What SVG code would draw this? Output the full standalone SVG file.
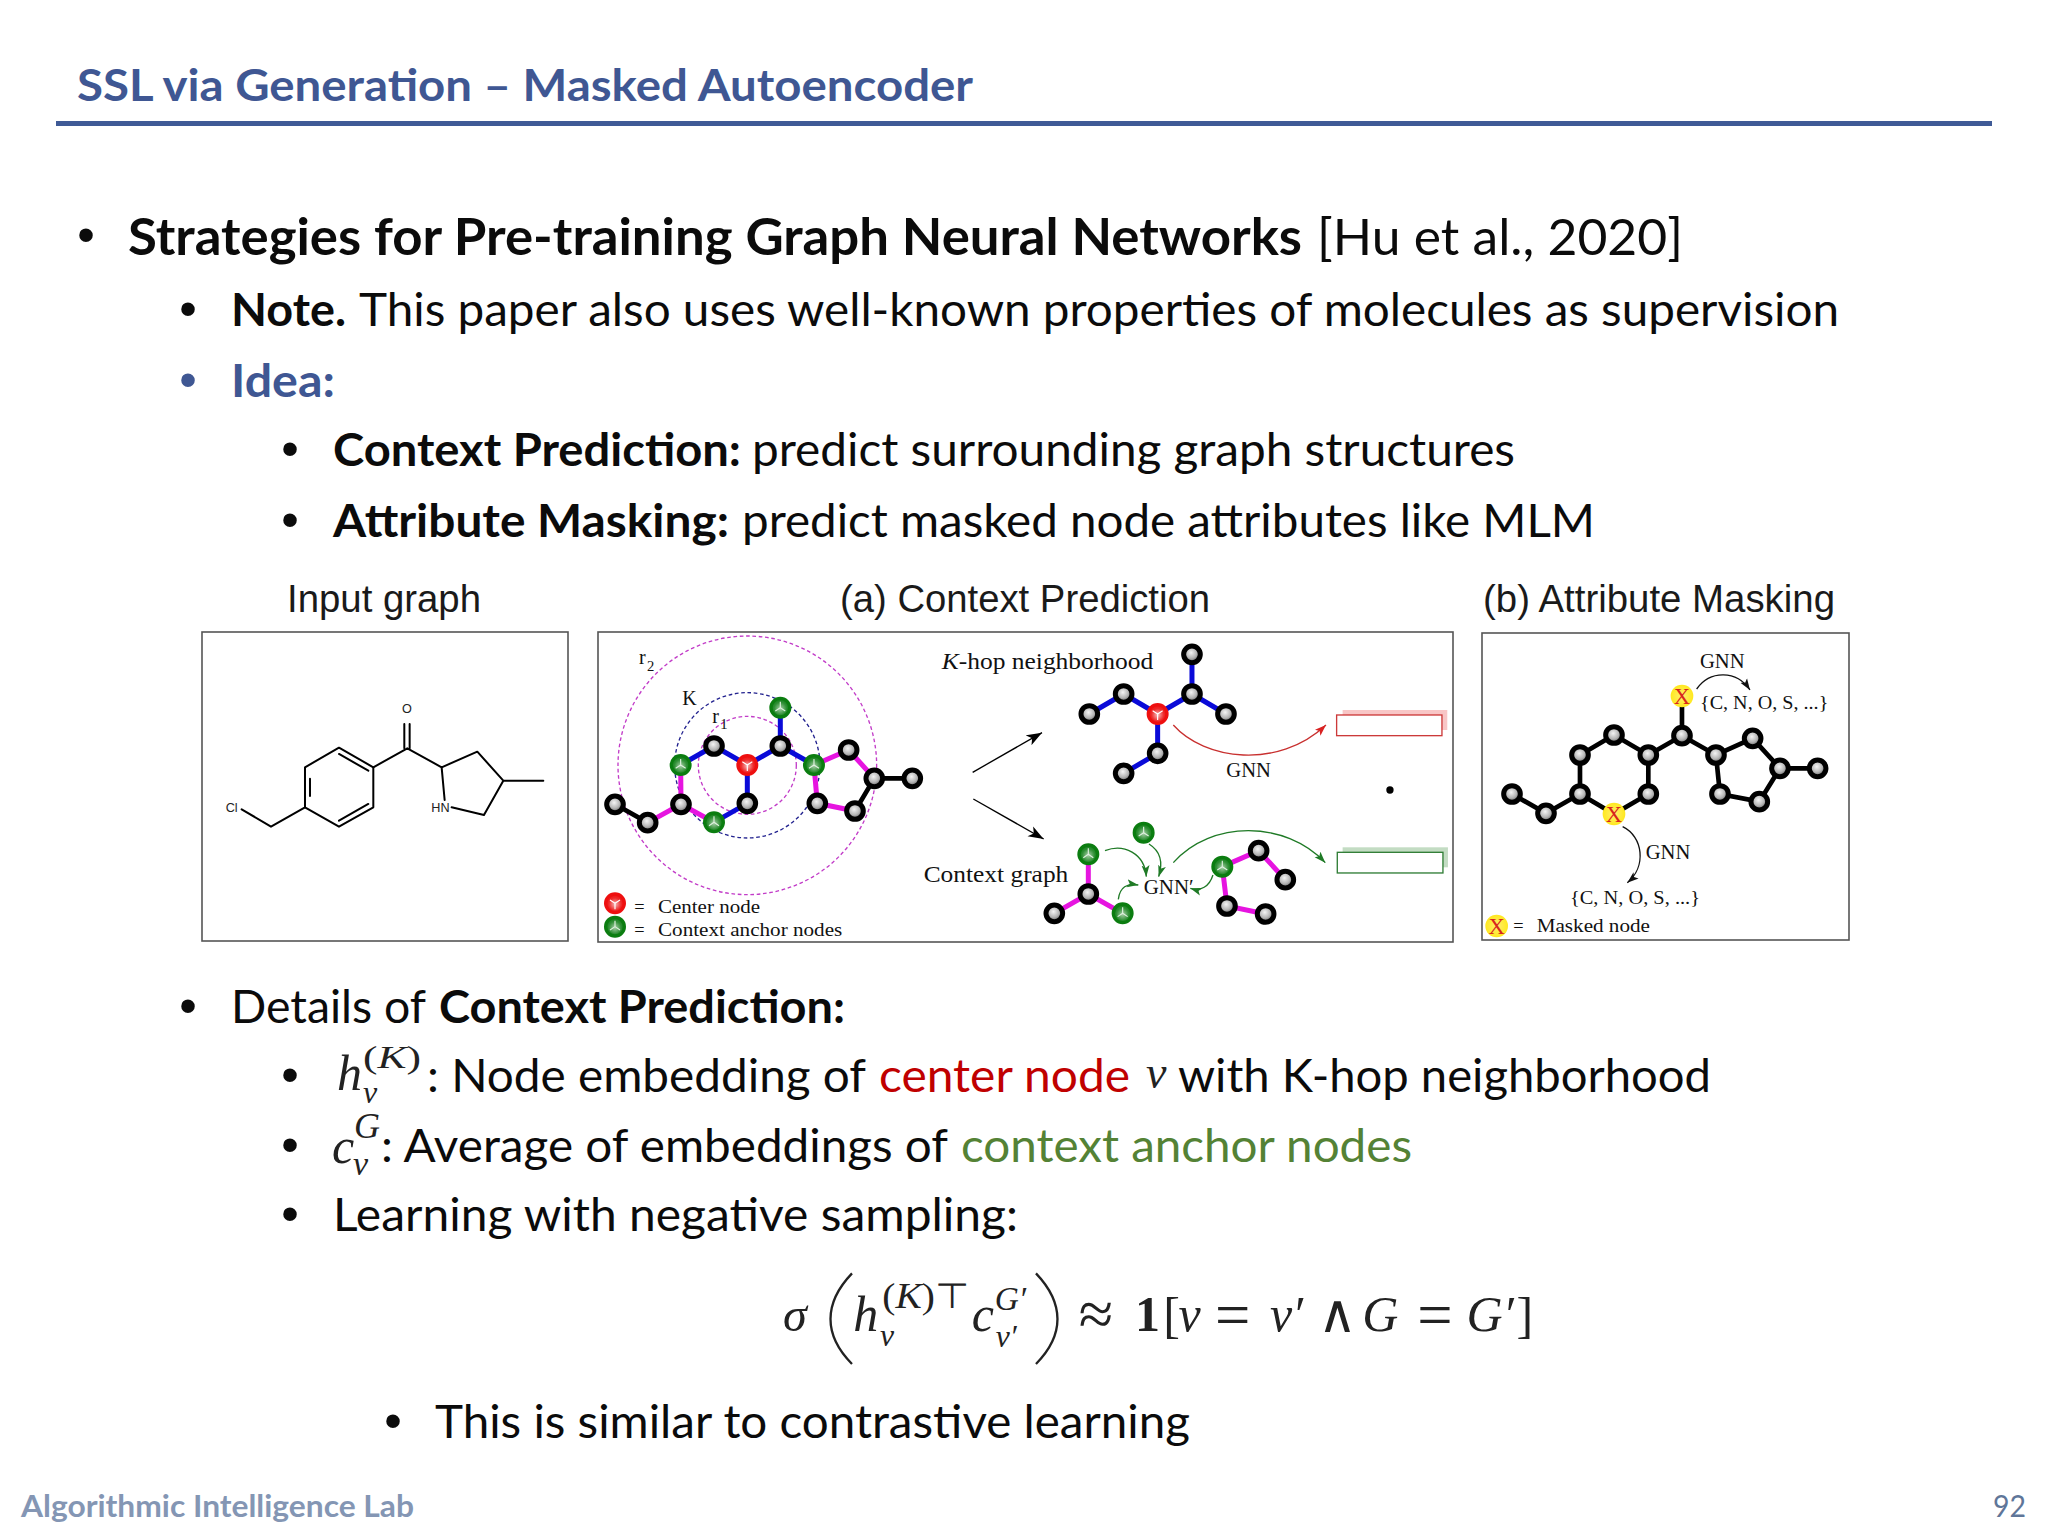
<svg xmlns="http://www.w3.org/2000/svg" xmlns:xlink="http://www.w3.org/1999/xlink" width="2048" height="1536" viewBox="0 0 2048 1536">
<style>
text{white-space:pre}
.b{font-family:"Lato","Liberation Sans",sans-serif;fill:#0b0b0b}
.l1{font-size:51px}.l2{font-size:46px}
.bd{font-weight:700}
.dot{font-family:"Liberation Sans",sans-serif;font-size:50px;text-anchor:middle;fill:#0b0b0b}
.cap{font-family:"Liberation Sans",Arial,sans-serif;font-size:38px;fill:#1a1a1a}
.s{font-family:"Liberation Serif","Times New Roman",serif;fill:#111}
.m{font-family:"Liberation Serif","Times New Roman",serif;font-style:italic;fill:#222}
.mr{font-family:"Liberation Serif","Times New Roman",serif;fill:#222}
.panel{fill:#fff;stroke:#555;stroke-width:1.6}
.bk{stroke:#000;stroke-width:14;fill:none}
.bl{stroke:#0a0ad8;stroke-width:15;fill:none}
.mg{stroke:#e614e0;stroke-width:15;fill:none}
.mol{stroke:#000;stroke-width:6;fill:none;stroke-linecap:round;stroke-linejoin:round}
.rmag{fill:none;stroke:#c23cc8;stroke-width:4;stroke-dasharray:11 8}
.rblu{fill:none;stroke:#22228f;stroke-width:4;stroke-dasharray:11 8}
</style>
<defs>
<radialGradient id="gg" cx="0.45" cy="0.4" r="0.6"><stop offset="0" stop-color="#f4f4f4"/><stop offset="0.55" stop-color="#b5b5b5"/><stop offset="1" stop-color="#555"/></radialGradient>
<radialGradient id="yg" cx="0.5" cy="0.5" r="0.5"><stop offset="0" stop-color="#ffef70"/><stop offset="1" stop-color="#ffe81e"/></radialGradient>
<radialGradient id="gr" cx="0.5" cy="0.55" r="0.55"><stop offset="0" stop-color="#a8cfa8"/><stop offset="0.6" stop-color="#2f8f35"/><stop offset="1" stop-color="#0c7a12"/></radialGradient>
<radialGradient id="rd" cx="0.5" cy="0.55" r="0.55"><stop offset="0" stop-color="#f6b8b8"/><stop offset="0.6" stop-color="#ee2a2a"/><stop offset="1" stop-color="#ee0d0d"/></radialGradient>
<g id="ball"><circle r="25" fill="url(#gg)" stroke="#000" stroke-width="15"/></g>
<g id="gn"><circle r="28" fill="url(#gr)" stroke="#0b7d10" stroke-width="10"/><path d="M0,0V-18M0,0L15,10M0,0L-15,10" stroke="#dff0df" stroke-width="3.5" fill="none"/></g>
<g id="rn"><circle r="28" fill="url(#rd)" stroke="#ee0f0f" stroke-width="10"/><path d="M0,0V18M0,0L15,-10M0,0L-15,-10" stroke="#fff" stroke-width="3.5" fill="none"/></g>
<g id="mk"><circle r="34" fill="url(#yg)"/><text y="23" text-anchor="middle" font-family="Liberation Serif,serif" font-size="68" fill="#d8261c">X</text></g>
<marker id="ab" markerUnits="userSpaceOnUse" markerWidth="50" markerHeight="36" refX="46" refY="18" orient="auto"><path d="M0,1L46,18L0,35L12,18Z" fill="#000"/></marker>
<marker id="ar" markerUnits="userSpaceOnUse" markerWidth="36" markerHeight="28" refX="34" refY="14" orient="auto"><path d="M0,2L34,14L0,26L8,14Z" fill="#d92222"/></marker>
<marker id="ag" markerUnits="userSpaceOnUse" markerWidth="36" markerHeight="28" refX="34" refY="14" orient="auto"><path d="M0,2L34,14L0,26L8,14Z" fill="#1f7a26"/></marker>
<marker id="ak" markerUnits="userSpaceOnUse" markerWidth="36" markerHeight="28" refX="34" refY="14" orient="auto"><path d="M0,2L34,14L0,26L8,14Z" fill="#111"/></marker>
</defs>
<rect width="2048" height="1536" fill="#fff"/>

<g id="title">
<text x="77" y="101" font-family="Lato,'Liberation Sans',sans-serif" font-weight="700" font-size="44" fill="#3f5793" textLength="896" lengthAdjust="spacingAndGlyphs">SSL via Generation – Masked Autoencoder</text>
<rect x="56" y="121" width="1936" height="5" fill="#3f5a96"/>
</g>

<g id="upper-text">
<text class="dot" x="86" y="252">•</text>
<text class="b l1 bd" x="128" y="255" textLength="1174" lengthAdjust="spacingAndGlyphs">Strategies for Pre-training Graph Neural Networks</text>
<text class="b l1" x="1317" y="255" textLength="366" lengthAdjust="spacingAndGlyphs">[Hu et al., 2020]</text>
<text class="dot" x="188" y="326">•</text>
<text class="b l2 bd" x="231" y="326" textLength="115" lengthAdjust="spacingAndGlyphs">Note.</text>
<text class="b l2" x="359" y="326" textLength="1480" lengthAdjust="spacingAndGlyphs">This paper also uses well-known properties of molecules as supervision</text>
<text class="dot" x="188" y="397" style="fill:#3f5793">•</text>
<text class="b l2 bd" x="231" y="397" textLength="104" lengthAdjust="spacingAndGlyphs" style="fill:#3f5793">Idea:</text>
<text class="dot" x="290" y="466">•</text>
<text class="b l2 bd" x="333" y="466" textLength="408" lengthAdjust="spacingAndGlyphs">Context Prediction:</text>
<text class="b l2" x="752" y="466" textLength="763" lengthAdjust="spacingAndGlyphs">predict surrounding graph structures</text>
<text class="dot" x="290" y="537">•</text>
<text class="b l2 bd" x="333" y="537" textLength="396" lengthAdjust="spacingAndGlyphs">Attribute Masking:</text>
<text class="b l2" x="742" y="537" textLength="853" lengthAdjust="spacingAndGlyphs">predict masked node attributes like MLM</text>
</g>

<g id="panel-captions">
<text class="cap" x="287" y="612" textLength="194" lengthAdjust="spacingAndGlyphs">Input graph</text>
<text class="cap" x="840" y="612" textLength="370" lengthAdjust="spacingAndGlyphs">(a) Context Prediction</text>
<text class="cap" x="1483" y="612" textLength="352" lengthAdjust="spacingAndGlyphs">(b) Attribute Masking</text>
</g>

<g id="input-graph">
<rect class="panel" x="202" y="632" width="366" height="309"/>
<g transform="translate(190 570) scale(0.3333)">
<g id="input-bonds" class="mol">
<path d="M155,718L243,770L345,712V592L447,533L550,592V712L447,770L345,712"/>
<path d="M360,678V626M447,552L535,602M447,752L535,702"/>
<path d="M550,592L652,535L755,592L862,545L940,632L882,735L785,712M755,592L764,690M940,632H1060"/>
<path d="M643,535V462M659,535V462"/>
</g>
<text x="107" y="725" font-family="Liberation Sans,sans-serif" font-size="38" fill="#222">Cl</text>
<text x="724" y="725" font-family="Liberation Sans,sans-serif" font-size="38" fill="#222">HN</text>
<text x="636" y="430" font-family="Liberation Sans,sans-serif" font-size="38" fill="#222">O</text>
</g>
</g>

<g id="context-prediction">
<rect class="panel" x="598" y="632" width="855" height="310"/>
<g id="input-neighborhood" transform="translate(590 620) scale(0.3333)">
<circle class="rmag" cx="472" cy="436" r="388"/>
<circle class="rblu" cx="472" cy="436" r="218"/>
<circle class="rmag" cx="472" cy="436" r="147"/>
<g id="pa-edges">
<path class="bk" d="M75,553L173,608M853,475H967M853,475L795,573"/>
<path class="mg" d="M173,608L273,553L272,435M273,553L372,607M672,435L776,390L853,475M795,573L682,550L672,435"/>
<path class="bl" d="M272,435L372,378L472,435V550L372,607M472,435L571,378V263M571,378L672,435"/>
</g>
<g id="pa-nodes">
<use xlink:href="#ball" x="75" y="553"/><use xlink:href="#ball" x="173" y="608"/><use xlink:href="#ball" x="273" y="553"/><use xlink:href="#ball" x="372" y="378"/><use xlink:href="#ball" x="472" y="550"/><use xlink:href="#ball" x="571" y="378"/><use xlink:href="#ball" x="776" y="390"/><use xlink:href="#ball" x="853" y="475"/><use xlink:href="#ball" x="967" y="475"/><use xlink:href="#ball" x="795" y="573"/><use xlink:href="#ball" x="682" y="550"/>
<use xlink:href="#gn" x="272" y="435"/><use xlink:href="#gn" x="372" y="607"/><use xlink:href="#gn" x="571" y="263"/><use xlink:href="#gn" x="672" y="435"/>
<use xlink:href="#rn" x="472" y="435"/>
</g>
<text class="s" x="147" y="133" font-size="60">r</text><text class="s" x="171" y="152" font-size="44">2</text>
<text class="s" x="277" y="255" font-size="60">K</text>
<text class="s" x="367" y="308" font-size="60">r</text><text class="s" x="391" y="327" font-size="44">1</text>
<use xlink:href="#rn" x="75" y="850"/><use xlink:href="#gn" x="75" y="920"/>
<text class="s" x="133" y="880" font-size="55">=</text><text class="s" x="133" y="947" font-size="55">=</text>
<text class="s" x="204" y="880" font-size="55" textLength="306" lengthAdjust="spacingAndGlyphs">Center node</text>
<text class="s" x="204" y="947" font-size="55" textLength="553" lengthAdjust="spacingAndGlyphs">Context anchor nodes</text>
</g>
<g id="views" transform="translate(920 620) scale(0.3333)">
<g id="pb-arrows" fill="none">
<path d="M158,457L366,338" stroke="#000" stroke-width="4" marker-end="url(#ab)"/>
<path d="M160,537L371,657" stroke="#000" stroke-width="4" marker-end="url(#ab)"/>
<path d="M760,315C853,420 1074,450 1218,315" stroke="#c8302f" stroke-width="4" marker-end="url(#ar)"/>
<path d="M760,728C874,600 1095,600 1216,728" stroke="#1f7a26" stroke-width="4" marker-end="url(#ag)"/>
<path d="M555,692C611,670 674,700 679,770" stroke="#1f7a26" stroke-width="4" marker-end="url(#ag)"/>
<path d="M687,672C716,690 732,720 716,770" stroke="#1f7a26" stroke-width="4" marker-end="url(#ag)"/>
<path d="M595,838C600,800 621,790 655,795" stroke="#1f7a26" stroke-width="4" marker-end="url(#ag)"/>
<path d="M879,765C868,800 842,815 811,805" stroke="#1f7a26" stroke-width="4" marker-end="url(#ag)"/>
</g>
<path class="bl" d="M816,103V222L918,282M816,222L713,282L611,222L508,282M713,282V400L611,460"/>
<path class="mg" d="M505,703V822L403,880M505,822L608,880M907,740L1016,692L1096,779M907,740L921,858L1037,882"/>
<g id="pb-nodes">
<use xlink:href="#ball" x="816" y="103"/><use xlink:href="#ball" x="816" y="222"/><use xlink:href="#ball" x="918" y="282"/><use xlink:href="#ball" x="611" y="222"/><use xlink:href="#ball" x="508" y="282"/><use xlink:href="#ball" x="713" y="400"/><use xlink:href="#ball" x="611" y="460"/>
<use xlink:href="#rn" x="713" y="282"/>
<use xlink:href="#gn" x="671" y="638"/><use xlink:href="#gn" x="505" y="703"/><use xlink:href="#gn" x="608" y="880"/><use xlink:href="#gn" x="907" y="740"/>
<use xlink:href="#ball" x="505" y="822"/><use xlink:href="#ball" x="403" y="880"/><use xlink:href="#ball" x="1016" y="692"/><use xlink:href="#ball" x="1096" y="779"/><use xlink:href="#ball" x="921" y="858"/><use xlink:href="#ball" x="1037" y="882"/>
</g>
<text class="s" x="65" y="147" font-size="68" textLength="635" lengthAdjust="spacingAndGlyphs"><tspan font-style="italic">K</tspan>-hop neighborhood</text>
<text class="s" x="11" y="785" font-size="68" textLength="434" lengthAdjust="spacingAndGlyphs">Context graph</text>
<text class="s" x="919" y="472" font-size="60" textLength="134" lengthAdjust="spacingAndGlyphs">GNN</text>
<text class="s" x="671" y="823" font-size="60" textLength="150" lengthAdjust="spacingAndGlyphs">GNN′</text>
<rect x="1268" y="270" width="314" height="60" fill="#f8c6c6"/>
<rect x="1250" y="285" width="316" height="62" fill="#fff" stroke="#cc3a3a" stroke-width="4"/>
<circle cx="1410" cy="510" r="11" fill="#000"/>
<rect x="1268" y="682" width="316" height="60" fill="#c3dcc3"/>
<rect x="1252" y="697" width="317" height="62" fill="#fff" stroke="#2f7d35" stroke-width="4"/>
</g>
</g>

<g id="attribute-masking">
<rect class="panel" x="1482" y="633" width="367" height="307"/>
<g transform="translate(1470 620) scale(0.3333)">
<path class="bk" d="M126,522L228,580L330,522V405L432,345L535,405V522L432,582L330,522M535,405L636,347V228M636,347L738,405L848,355L930,445H1043M930,445L868,545L750,522L738,405"/>
<g id="pc-nodes">
<use xlink:href="#ball" x="432" y="345"/><use xlink:href="#ball" x="330" y="405"/><use xlink:href="#ball" x="535" y="405"/><use xlink:href="#ball" x="330" y="522"/><use xlink:href="#ball" x="535" y="522"/><use xlink:href="#ball" x="126" y="522"/><use xlink:href="#ball" x="228" y="580"/><use xlink:href="#ball" x="636" y="347"/><use xlink:href="#ball" x="738" y="405"/><use xlink:href="#ball" x="848" y="355"/><use xlink:href="#ball" x="930" y="445"/><use xlink:href="#ball" x="1043" y="445"/><use xlink:href="#ball" x="868" y="545"/><use xlink:href="#ball" x="750" y="522"/>
<use xlink:href="#mk" x="636" y="228"/><use xlink:href="#mk" x="432" y="582"/><use xlink:href="#mk" x="80" y="918"/>
</g>
<g fill="none" stroke="#111" stroke-width="4">
<path d="M680,207C720,150 800,150 840,210" marker-end="url(#ak)"/>
<path d="M458,620C520,650 530,740 472,788" marker-end="url(#ak)"/>
</g>
<text class="s" x="690" y="143" font-size="60" textLength="134" lengthAdjust="spacingAndGlyphs">GNN</text>
<text class="s" x="690" y="268" font-size="58" textLength="385" lengthAdjust="spacingAndGlyphs">{C, N, O, S, ...}</text>
<text class="s" x="527" y="717" font-size="60" textLength="134" lengthAdjust="spacingAndGlyphs">GNN</text>
<text class="s" x="300" y="852" font-size="58" textLength="390" lengthAdjust="spacingAndGlyphs">{C, N, O, S, ...}</text>
<text class="s" x="130" y="937" font-size="55">=</text>
<text class="s" x="200" y="937" font-size="55" textLength="340" lengthAdjust="spacingAndGlyphs">Masked node</text>
</g>
</g>

<g id="lower-text">
<text class="dot" x="188" y="1023">•</text>
<text class="b l2" x="231" y="1023" textLength="195" lengthAdjust="spacingAndGlyphs">Details of</text>
<text class="b l2 bd" x="439" y="1023" textLength="406" lengthAdjust="spacingAndGlyphs">Context Prediction:</text>
<text class="dot" x="290" y="1092">•</text>
<text class="m" x="337" y="1090" font-size="50">h</text>
<text class="mr" x="363" y="1068" font-size="32" textLength="58" lengthAdjust="spacingAndGlyphs">(<tspan font-style="italic">K</tspan>)</text>
<text class="m" x="363" y="1103" font-size="32">v</text>
<text class="b l2" x="427" y="1092" textLength="439" lengthAdjust="spacingAndGlyphs">: Node embedding of</text>
<text class="b l2" x="879" y="1092" textLength="251" lengthAdjust="spacingAndGlyphs" style="fill:#c00000">center node</text>
<text class="m" x="1146" y="1088" font-size="46">v</text>
<text class="b l2" x="1178" y="1092" textLength="533" lengthAdjust="spacingAndGlyphs">with K-hop neighborhood</text>
<text class="dot" x="290" y="1162">•</text>
<text class="m" x="332" y="1163" font-size="50">c</text>
<text class="m" x="354" y="1138" font-size="36">G</text>
<text class="m" x="353" y="1175" font-size="34">v</text>
<text class="b l2" x="381" y="1162" textLength="567" lengthAdjust="spacingAndGlyphs">: Average of embeddings of</text>
<text class="b l2" x="961" y="1162" textLength="451" lengthAdjust="spacingAndGlyphs" style="fill:#548235">context anchor nodes</text>
<text class="dot" x="290" y="1231">•</text>
<text class="b l2" x="333" y="1231" textLength="685" lengthAdjust="spacingAndGlyphs">Learning with negative sampling:</text>
<text class="dot" x="393" y="1438">•</text>
<text class="b l2" x="435" y="1438" textLength="755" lengthAdjust="spacingAndGlyphs">This is similar to contrastive learning</text>
</g>

<g id="equation" transform="translate(760 1260) scale(0.3333)">
<text class="m" x="69" y="212" font-size="145">σ</text>
<path d="M276,40C190,130 190,225 276,312" fill="none" stroke="#222" stroke-width="7"/>
<path d="M828,40C914,130 914,225 828,312" fill="none" stroke="#222" stroke-width="7"/>
<text class="m" x="280" y="212" font-size="150">h</text>
<text class="mr" x="367" y="145" font-size="105" textLength="259" lengthAdjust="spacingAndGlyphs">(<tspan font-style="italic">K</tspan>)⊤</text>
<text class="m" x="360" y="258" font-size="95">v</text>
<text class="m" x="635" y="212" font-size="150">c</text>
<text class="m" x="704" y="150" font-size="100">G′</text>
<text class="m" x="707" y="262" font-size="95">v′</text>
<text class="mr" x="956" y="225" font-size="188">≈</text>
<text class="mr" x="1125" y="212" font-size="150" font-weight="700">1</text>
<text class="mr" x="1210" y="215" font-size="150">[</text>
<text class="m" x="1256" y="212" font-size="150">v</text>
<text class="mr" x="1365" y="227" font-size="188">=</text>
<text class="m" x="1530" y="212" font-size="150">v′</text>
<text class="mr" x="1675" y="215" font-size="160">∧</text>
<text class="m" x="1807" y="212" font-size="150">G</text>
<text class="mr" x="1972" y="227" font-size="188">=</text>
<text class="m" x="2120" y="212" font-size="150">G′</text>
<text class="mr" x="2270" y="215" font-size="150">]</text>
</g>

<g id="footer">
<text x="21" y="1517" font-family="Lato,'Liberation Sans',sans-serif" font-weight="700" font-size="30" fill="#8496b4" textLength="393" lengthAdjust="spacingAndGlyphs">Algorithmic Intelligence Lab</text>
<text x="1993" y="1517" font-family="Lato,'Liberation Sans',sans-serif" font-size="30" fill="#5f7699" textLength="33" lengthAdjust="spacingAndGlyphs">92</text>
</g>
</svg>
